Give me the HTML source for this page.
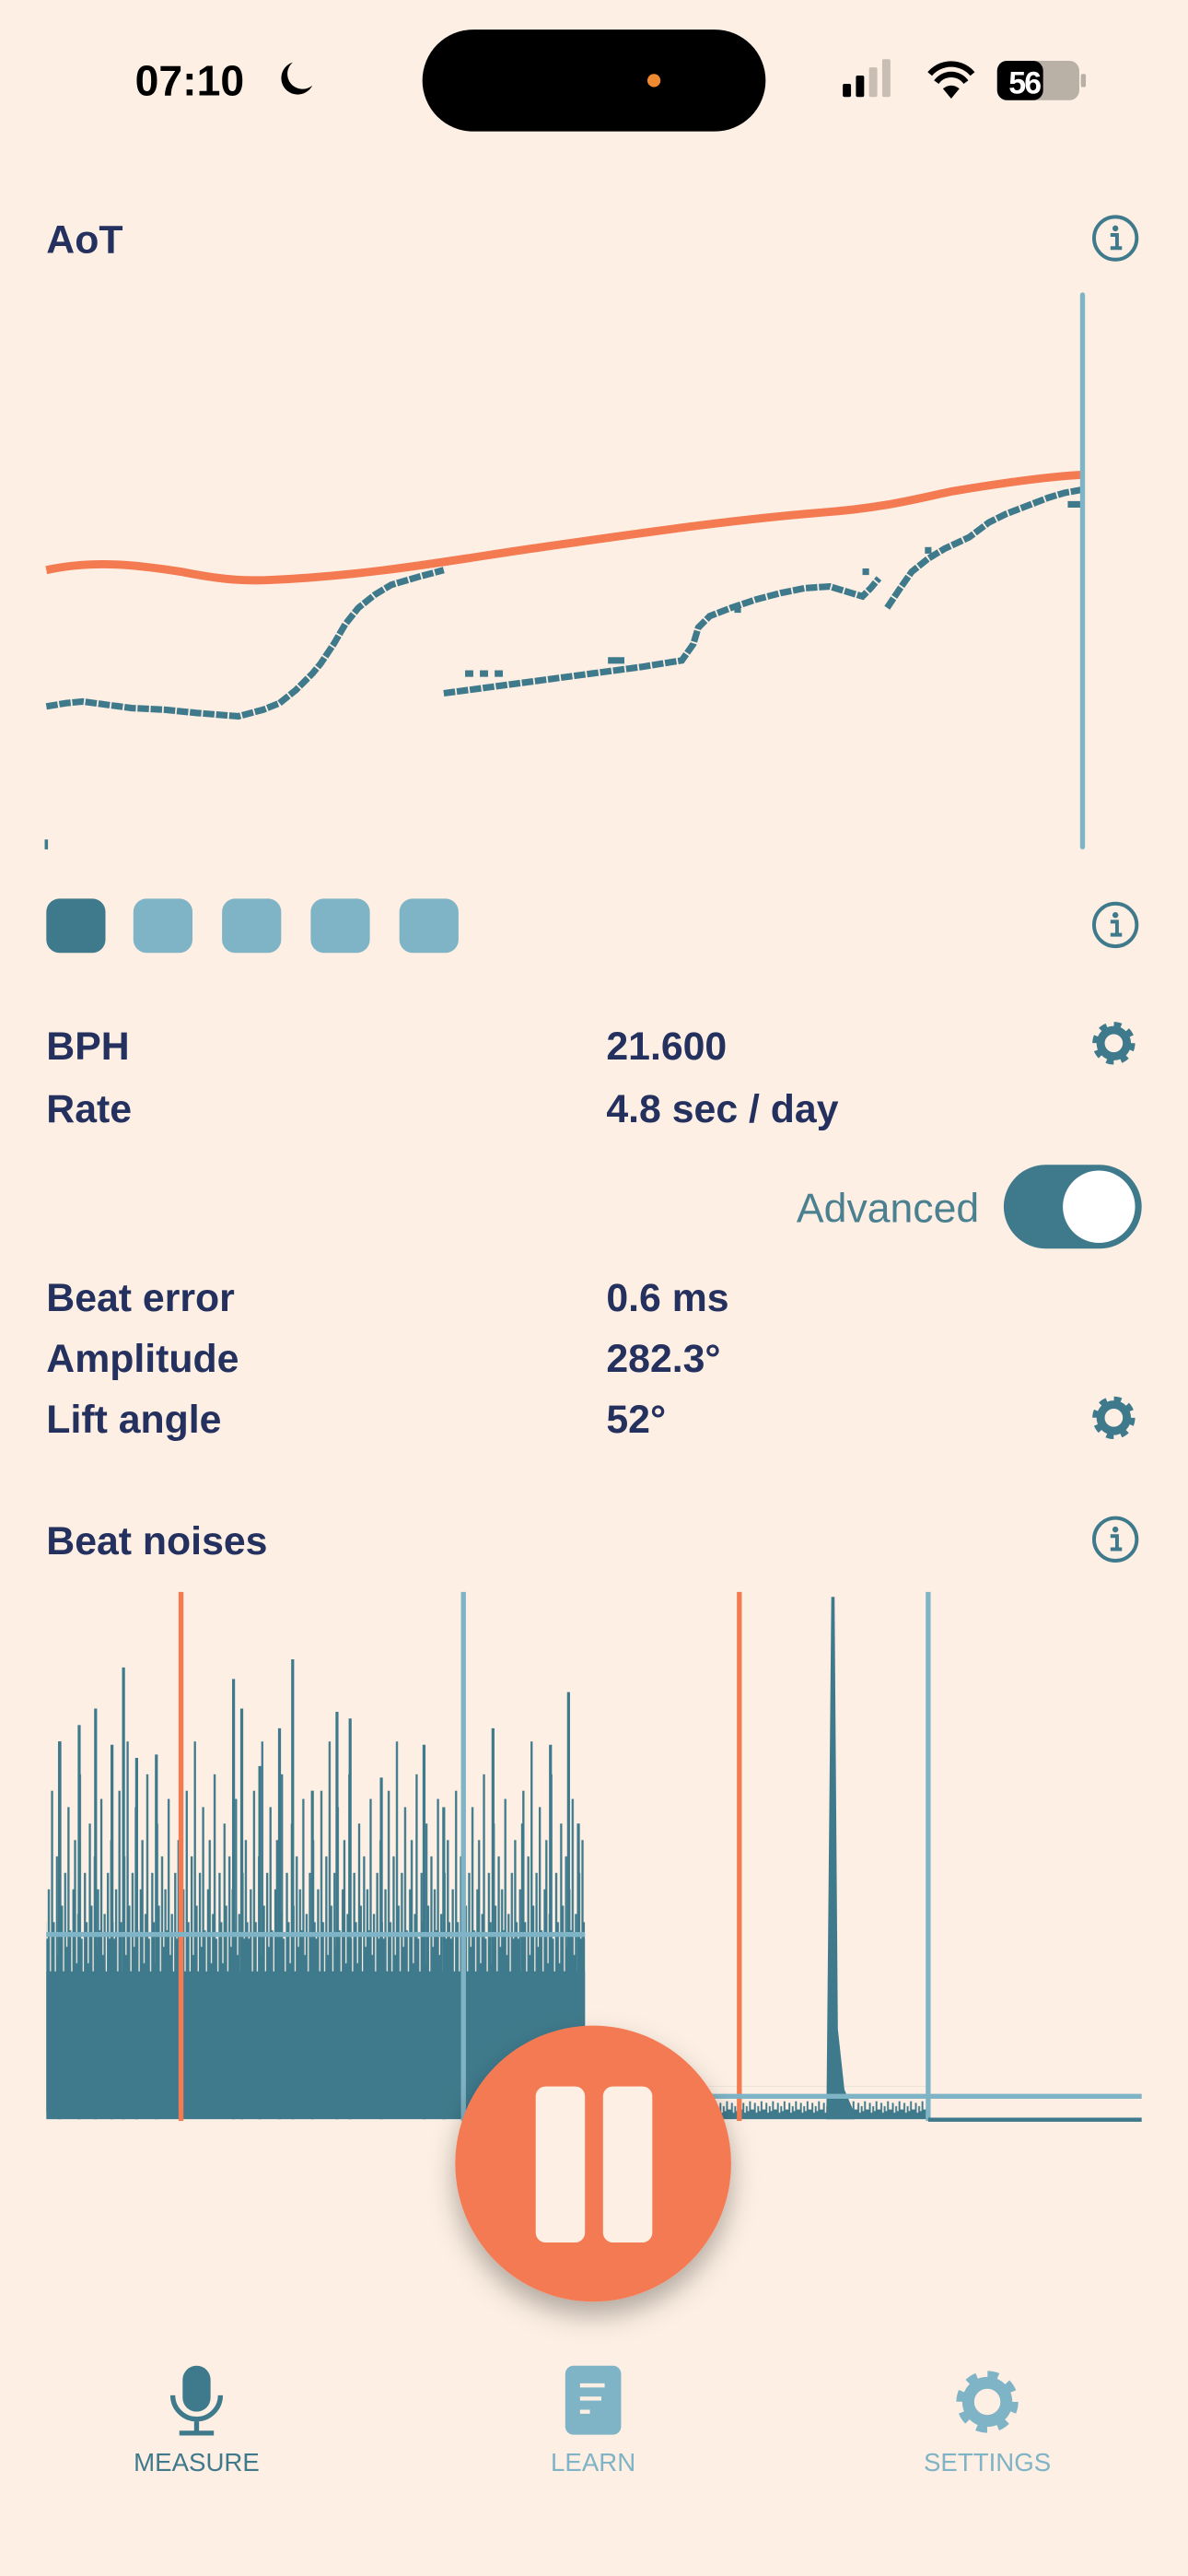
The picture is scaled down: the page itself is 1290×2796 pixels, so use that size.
<!DOCTYPE html>
<html><head><meta charset="utf-8"><style>
html,body{margin:0;padding:0;background:#fdefe3;}
svg{display:block;}
text{font-family:"Liberation Sans",sans-serif;}
</style></head><body>
<svg width="1290" height="2796" viewBox="0 0 723 1568" xmlns="http://www.w3.org/2000/svg">
<defs>
<filter id="sh" x="-40%" y="-40%" width="180%" height="180%"><feDropShadow dx="0" dy="8" stdDeviation="8" flood-color="#000" flood-opacity="0.3"/></filter>
<g id="gear"><circle r="10.5" fill="none" stroke="#3f7a8c" stroke-width="5" stroke-dasharray="4.1 4.15"/><circle r="8" fill="none" stroke="#3f7a8c" stroke-width="5"/></g>
<g id="info"><circle r="13" fill="none" stroke="#3f7a8c" stroke-width="2.2"/><circle cx="0" cy="-6" r="1.8" fill="#3f7a8c"/><path d="M-3,-2 H1 V6 M-3,6 H4" stroke="#3f7a8c" stroke-width="2.2" fill="none"/></g>
<pattern id="wp" patternUnits="userSpaceOnUse" x="28" y="990" width="41" height="300">
<path stroke="#3f7a8c" stroke-width="1.3" fill="none" d="M0.5,300V190 M1.5,300V160 M2.5,300V210 M3.5,300V100 M4.5,300V180 M5.5,300V220 M6.5,300V140 M7.5,300V200 M8.5,300V70 M9.5,300V170 M10.5,300V210 M11.5,300V150 M12.5,300V195 M13.5,300V110 M14.5,300V185 M15.5,300V215 M16.5,300V160 M17.5,300V130 M18.5,300V205 M19.5,300V175 M20.5,300V90 M21.5,300V190 M22.5,300V220 M23.5,300V150 M24.5,300V180 M25.5,300V205 M26.5,300V120 M27.5,300V170 M28.5,300V210 M29.5,300V140 M30.5,300V195 M31.5,300V160 M32.5,300V185 M33.5,300V105 M34.5,300V200 M35.5,300V175 M36.5,300V215 M37.5,300V150 M38.5,300V190 M39.5,300V130 M40.5,300V180"/>
</pattern>
<pattern id="np" patternUnits="userSpaceOnUse" x="430" y="1270" width="7" height="20">
<path stroke="#3f7a8c" stroke-width="1.1" fill="none" d="M0.5,20V14 M1.5,20V10 M2.5,20V16 M3.5,20V12 M4.5,20V15 M5.5,20V9 M6.5,20V14"/>
</pattern>
</defs>
<rect width="723" height="1568" fill="#fdefe3"/>
<!-- status bar -->
<text x="82" y="58" font-size="26" font-weight="600" fill="#000">07:10</text>
<path d="M178,38 a10,10 0 1,0 12,14 a9,9 0 0,1 -12,-14z" fill="#000"/>
<rect x="257" y="18" width="209" height="62" rx="31" fill="#000"/>
<circle cx="398" cy="49" r="4" fill="#f08a30"/>
<rect x="513" y="51" width="5" height="8" rx="1" fill="#000"/>
<rect x="521" y="46" width="5" height="13" rx="1" fill="#000"/>
<rect x="529" y="41" width="5" height="18" rx="1" fill="#c8beb4"/>
<rect x="537" y="36" width="5" height="23" rx="1" fill="#c8beb4"/>
<path d="M566,45 a17,17 0 0,1 26,0 M570,50 a11,11 0 0,1 18,0" stroke="#000" stroke-width="3.5" fill="none"/>
<path d="M574,54 L579,60 L584,54 Q579,50 574,54z" fill="#000"/>
<rect x="607" y="37" width="50" height="24" rx="6" fill="#b9b0a6"/>
<rect x="607" y="37" width="28" height="24" rx="6" fill="#000"/>
<rect x="658" y="45" width="3" height="8" rx="1" fill="#b9b0a6"/>
<text x="614" y="57" font-size="19" font-weight="700" fill="#fff" letter-spacing="-1">56</text>
<!-- AoT -->
<text x="28" y="154" font-size="24" font-weight="600" fill="#24305e">AoT</text>
<use href="#info" x="679" y="145"/>
<path d="M28,347 C60,340 90,345 110,348 C130,352 145,354 165,353 C230,350 280,340 330,333 C400,323 450,316 500,312 C540,309 560,303 580,299 C610,294 640,290 659,289" stroke="#f47a52" stroke-width="5" fill="none"/>
<g stroke="#3f7a8c" stroke-width="4" fill="none" stroke-dasharray="7 1">
<path d="M28,430 L40,428 L50,427 L65,429 L80,431 L100,432 L120,434 L145,436 L160,432 L170,428 L180,420 L190,410 L195,404 L203,392 L210,380 L218,370 L228,362 L238,356 L255,351 L270,347"/>
<path d="M270,422 L300,418 L330,414 L360,410 L390,406 L415,402 L422,392 L425,382 L432,375 L445,370 L460,365 L475,361 L490,358 L505,357 L515,360 L525,363 L530,358 L535,352"/>
<path d="M540,370 L548,358 L555,348 L565,340 L575,334 L590,327 L602,318 L612,313 L625,308 L638,303 L648,300 L659,298"/>
</g>
<g fill="#3f7a8c"><rect x="283" y="408" width="5" height="4"/><rect x="292" y="408" width="5" height="4"/><rect x="301" y="408" width="5" height="4"/><rect x="370" y="400" width="10" height="4"/><rect x="447" y="369" width="4" height="4"/><rect x="563" y="333" width="4" height="4"/><rect x="525" y="346" width="4" height="4"/><rect x="650" y="305" width="8" height="4"/></g>
<rect x="27" y="511" width="2" height="6" fill="#3f7a8c"/>
<rect x="657.5" y="178" width="3" height="339" rx="1.5" fill="#7fb3c6"/>
<!-- squares -->
<rect x="28" y="547" width="36" height="33" rx="8" fill="#3f7a8c"/>
<rect x="81" y="547" width="36" height="33" rx="8" fill="#7fb3c6"/>
<rect x="135" y="547" width="36" height="33" rx="8" fill="#7fb3c6"/>
<rect x="189" y="547" width="36" height="33" rx="8" fill="#7fb3c6"/>
<rect x="243" y="547" width="36" height="33" rx="8" fill="#7fb3c6"/>
<use href="#info" x="679" y="563"/>
<!-- metrics -->
<g font-size="24" font-weight="600" fill="#24305e">
<text x="28" y="645">BPH</text><text x="369" y="645">21.600</text>
<text x="28" y="683">Rate</text><text x="369" y="683">4.8 sec / day</text>
<text x="28" y="798">Beat error</text><text x="369" y="798">0.6 ms</text>
<text x="28" y="835">Amplitude</text><text x="369" y="835">282.3°</text>
<text x="28" y="872">Lift angle</text><text x="369" y="872">52°</text>
</g>
<use href="#gear" x="678" y="635"/>
<use href="#gear" x="678" y="863"/>
<text x="596" y="744" font-size="25" fill="#4a8090" text-anchor="end">Advanced</text>
<rect x="611" y="709" width="84" height="51" rx="25.5" fill="#3f7a8c"/>
<circle cx="669" cy="734.5" r="22" fill="#fff"/>
<!-- beat noises -->
<text x="28" y="946" font-size="24" font-weight="600" fill="#24305e">Beat noises</text>
<use href="#info" x="679" y="937"/>
<rect x="28" y="1001" width="328" height="289" fill="url(#wp)"/>
<rect x="28" y="1200" width="328" height="86" fill="#3f7a8c"/>
<path stroke="#3f7a8c" stroke-width="1.8" fill="none" d="M36,1290V1060 M48,1290V1050 M58,1290V1040 M68,1290V1062 M75,1290V1015 M83,1290V1070 M95,1290V1068 M110,1290V1080 M142,1290V1022 M147,1290V1040 M158,1290V1075 M170,1290V1052 M178,1290V1010 M190,1290V1090 M205,1290V1042 M213,1290V1046 M232,1290V1082 M258,1290V1062 M270,1290V1100 M300,1290V1052 M318,1290V1110 M335,1290V1062 M346,1290V1030 M352,1290V1110"/>
<rect x="430" y="1270" width="135" height="20" fill="url(#np)"/>
<polygon points="503,1290 506,972 508,972 510,1235 514,1272 520,1286 520,1290" fill="#3f7a8c"/>
<rect x="108.5" y="969" width="3" height="322" fill="#f47a52"/>
<rect x="448.5" y="969" width="3" height="322" fill="#f47a52"/>
<rect x="280.5" y="969" width="3" height="322" fill="#7fb3c6"/>
<rect x="563.5" y="969" width="3" height="322" fill="#7fb3c6"/>
<rect x="28" y="1176" width="328" height="3" fill="#7fb3c6"/>
<rect x="430" y="1274.5" width="265" height="3" fill="#7fb3c6"/>
<rect x="565" y="1289" width="130" height="2.5" fill="#3f7a8c"/>
<!-- pause -->
<circle cx="361" cy="1317" r="84" fill="#f47a52" filter="url(#sh)"/>
<rect x="326" y="1270" width="30" height="95" rx="6" fill="#fdefe3"/>
<rect x="367" y="1270" width="30" height="95" rx="6" fill="#fdefe3"/>
<!-- tab bar -->
<rect x="111" y="1440" width="17" height="28" rx="8.5" fill="#3f7a8c"/>
<path d="M105,1458 a14.5,14.5 0 0,0 29,0 M119.5,1473 V1481 M109,1481 H130" stroke="#3f7a8c" stroke-width="3" fill="none"/>
<rect x="344" y="1440" width="34" height="42" rx="5" fill="#7fb3c6"/>
<path d="M353,1452 H368 M353,1460 H366 M353,1468 H359" stroke="#fdefe3" stroke-width="2.5"/>
<g transform="translate(601,1462) scale(1.45)"><circle r="10.5" fill="none" stroke="#7fb3c6" stroke-width="5" stroke-dasharray="4.1 4.15"/><circle r="8" fill="none" stroke="#7fb3c6" stroke-width="5"/></g>
<text x="119.5" y="1504" font-size="15.5" fill="#3f7a8c" text-anchor="middle">MEASURE</text>
<text x="361" y="1504" font-size="15.5" fill="#7fb3c6" text-anchor="middle">LEARN</text>
<text x="601" y="1504" font-size="15.5" fill="#7fb3c6" text-anchor="middle">SETTINGS</text>
</svg>
</body></html>
